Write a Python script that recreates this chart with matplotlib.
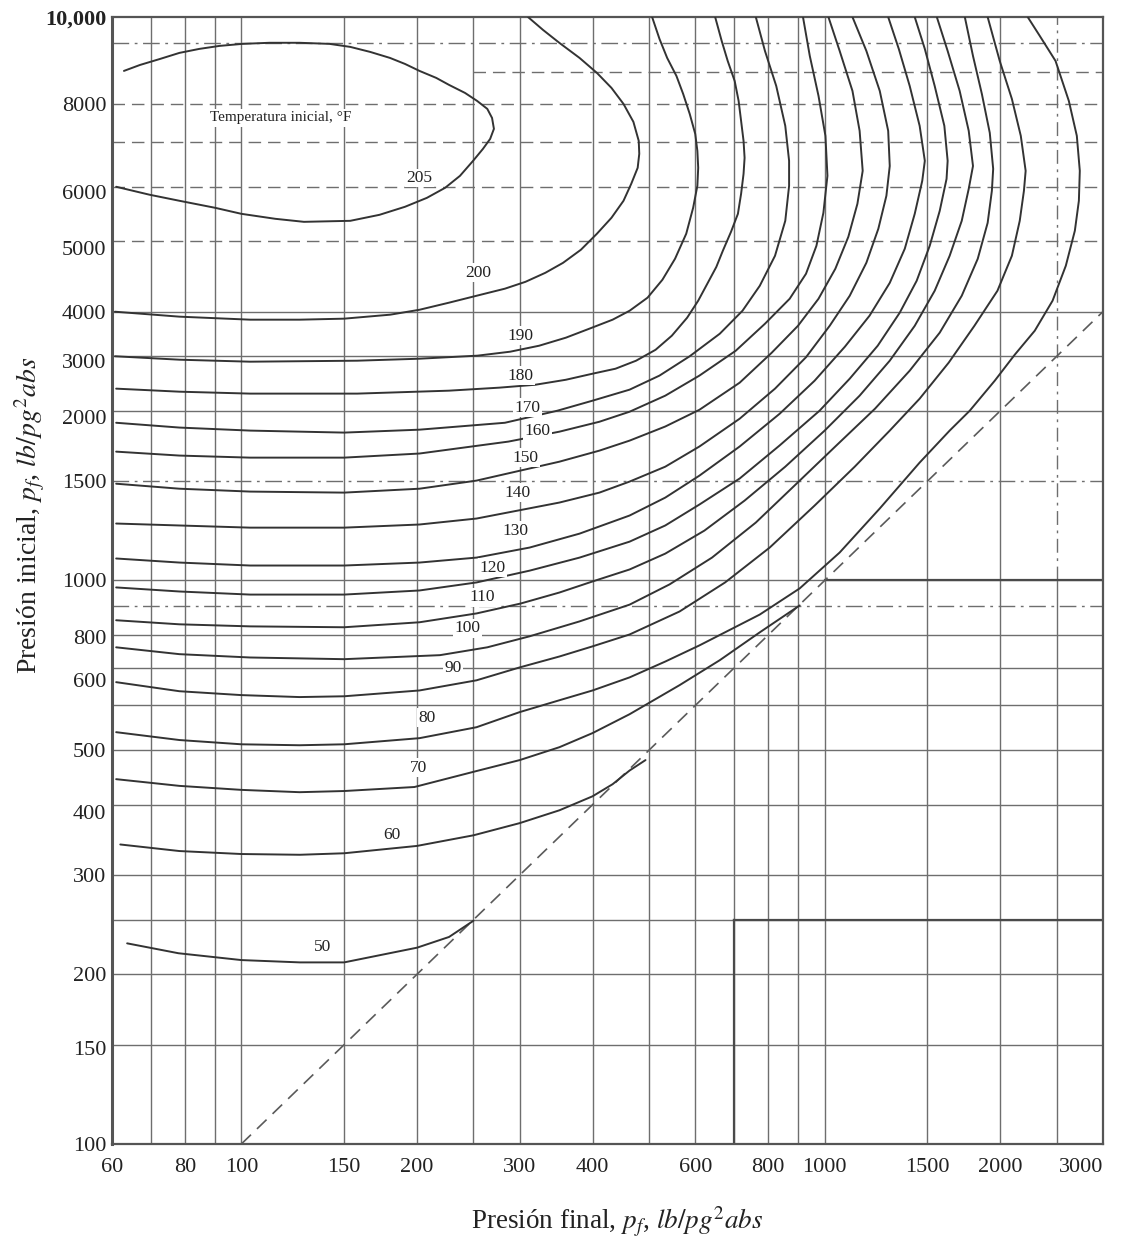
import matplotlib.pyplot as plt
from matplotlib.ticker import NullLocator

plt.rcParams['font.family'] = ['Liberation Serif', 'DejaVu Serif']
plt.rcParams['mathtext.fontset'] = 'stix'

# Initial temperature curves: final pressure pf vs initial pressure pi (lb/pg2 abs)
pf_205 = [61, 69.6, 78.3, 90.1, 100, 114.3, 128, 153.7, 172.5, 190.8, 208, 223.5, 237, 249.6, 259.5, 267, 271, 269, 264,
          253.6, 241.8, 227, 215.8, 202, 190.8, 179.8, 166.3, 153.7, 141.6, 125.8, 111.7, 100.4, 91.7, 84.7, 78.3, 72.5, 67, 62.9]
pi_205 = [4997, 4837, 4719, 4586, 4474, 4384, 4330, 4348, 4456, 4605, 4776, 4976, 5225, 5556, 5834, 6077, 6332, 6620, 6870,
          7097, 7332, 7577, 7797, 8023, 8254, 8460, 8670, 8850, 8960, 9000, 9000, 8960, 8886, 8778, 8636, 8424, 8220, 8023]

pf_200 = [60.7, 78.3, 103.5, 125.8, 150, 180, 202, 227, 257, 283, 307, 332, 356, 382, 407, 431, 452, 466, 478, 481,
          480, 470, 452, 431, 407, 380, 351, 329, 310]
pi_200 = [2999, 2939, 2903, 2903, 2915, 2963, 3023, 3112, 3214, 3295, 3389, 3516, 3662, 3863, 4125, 4402, 4719, 5058, 5400, 5718,
          6028, 6515, 7010, 7485, 7957, 8460, 8995, 9485, 10000]

pf_190 = [60.7, 78.3, 103.5, 158, 202, 254, 289, 324, 360, 395, 433, 463, 497, 527, 554, 579, 595, 605, 607, 605,
          600, 587, 572, 557, 537, 521, 506]
pi_190 = [2500, 2465, 2445, 2455, 2475, 2506, 2547, 2610, 2697, 2798, 2903, 3011, 3176, 3417, 3724, 4125, 4586, 5016, 5400, 5787,
          6200, 6731, 7303, 7860, 8460, 9142, 10000]

pf_180 = [61, 78.3, 103.5, 158, 227, 277, 319, 360, 400, 438, 475, 513, 547, 581, 607, 629, 652, 669, 691, 710,
          719, 726, 729, 726, 719, 712, 701, 682, 666, 649]
pi_180 = [2190, 2163, 2146, 2146, 2172, 2199, 2225, 2271, 2328, 2376, 2455, 2567, 2719, 2926, 3137, 3360, 3601, 3847, 4158, 4474,
          4855, 5267, 5624, 6028, 6541, 7097, 7700, 8356, 9067, 10000]

pf_170 = [61, 78.3, 103.5, 150, 202, 283, 348, 400, 463, 521, 587, 661, 723, 774, 822, 856, 869, 869, 856, 826, 790, 762]
pi_170 = [1905, 1868, 1845, 1830, 1852, 1905, 2001, 2085, 2181, 2310, 2500, 2741, 3011, 3334, 3769, 4348, 5016, 5556, 6409, 7544, 8706, 10000]

pf_160 = [61, 78.3, 103.5, 150, 202, 287, 351, 411, 463, 533, 610, 704, 790, 871, 929, 968, 995, 1011, 1003, 976, 943, 918]
pi_160 = [1693, 1666, 1652, 1652, 1680, 1764, 1837, 1913, 1993, 2128, 2310, 2557, 2855, 3162, 3502, 3926, 4492, 5226, 6153, 7244, 8529, 10000]

pf_150 = [61, 78.3, 103.5, 150, 202, 253, 301, 351, 411, 463, 533, 610, 715, 811, 900, 976, 1043, 1098, 1138, 1162, 1148, 1116, 1061, 1015]
pi_150 = [1485, 1455, 1438, 1432, 1455, 1504, 1567, 1625, 1700, 1771, 1876, 2009, 2244, 2535, 2831, 3162, 3574, 4073, 4661, 5333, 6280, 7393, 8706, 10000]

pf_140 = [61, 78.3, 103.5, 150, 202, 253, 351, 411, 463, 533, 610, 715, 822, 929, 1020, 1104, 1179, 1236, 1276, 1293, 1285, 1243, 1179, 1116]
pi_140 = [1262, 1252, 1241, 1241, 1257, 1288, 1375, 1432, 1498, 1592, 1729, 1937, 2190, 2490, 2831, 3201, 3663, 4209, 4817, 5440, 6280, 7393, 8706, 10000]

pf_130 = [61, 78.3, 103.5, 150, 202, 253, 312, 380, 463, 533, 610, 715, 837, 961, 1083, 1194, 1293, 1372, 1427, 1470, 1485, 1455, 1399, 1340, 1285]
pi_130 = [1094, 1076, 1063, 1063, 1076, 1098, 1144, 1211, 1304, 1403, 1535, 1729, 1976, 2262, 2599, 2951, 3374, 3879, 4474, 5120, 5556, 6409, 7544, 8778, 10000]

pf_120 = [61, 78.3, 103.5, 150, 202, 253, 312, 380, 463, 533, 610, 715, 837, 980, 1104, 1233, 1345, 1438, 1514, 1575, 1618, 1625, 1604, 1544, 1485, 1427]
pi_120 = [972, 956, 944, 944, 960, 992, 1041, 1098, 1172, 1252, 1364, 1517, 1736, 2001, 2281, 2610, 2987, 3403, 3926, 4529, 5161, 5556, 6409, 7544, 8778, 10000]

pf_110 = [61, 78.3, 103.5, 150, 202, 253, 301, 351, 400, 463, 533, 622, 729, 856, 1000, 1148, 1293, 1427, 1544, 1638, 1718, 1766, 1796, 1766, 1704, 1625, 1557]
pi_110 = [850, 836, 829, 826, 843, 874, 910, 952, 996, 1046, 1116, 1226, 1386, 1592, 1845, 2128, 2455, 2831, 3267, 3769, 4348, 4955, 5440, 6280, 7393, 8706, 10000]

pf_100 = [61, 78.3, 103.5, 150, 219, 264, 312, 380, 463, 542, 641, 762, 888, 1043, 1220, 1399, 1575, 1718, 1830, 1903, 1935, 1945, 1919, 1860, 1796, 1739]
pi_100 = [761, 740, 730, 725, 737, 761, 796, 846, 906, 984, 1098, 1267, 1474, 1729, 2018, 2357, 2753, 3201, 3723, 4312, 4915, 5377, 6229, 7303, 8529, 10000]

pf_90 = [61, 78.3, 100, 125.8, 150, 202, 253, 300, 351, 400, 463, 564, 675, 805, 961, 1126, 1293, 1455, 1632, 1806, 1978, 2094, 2160, 2196, 2211, 2169, 2094, 1996, 1903]
pi_90 = [660, 636, 626, 621, 623, 638, 665, 701, 733, 764, 802, 881, 992, 1144, 1358, 1592, 1845, 2102, 2436, 2831, 3267, 3769, 4348, 4915, 5333, 6153, 7156, 8356, 10000]

pf_80 = [61, 78.3, 100, 125.8, 150, 202, 253, 300, 351, 400, 463, 533, 610, 774, 906, 1061, 1243, 1455, 1638, 1773, 1957, 2118, 2292, 2459, 2591, 2685, 2728, 2738, 2706, 2622, 2488, 2338, 2229]
pi_80 = [538, 521, 512, 510, 512, 525, 549, 584, 613, 638, 673, 718, 767, 870, 968, 1121, 1342, 1619, 1845, 2001, 2262, 2516, 2775, 3137, 3619, 4175, 4719, 5333, 6153, 7097, 8356, 9255, 10000]

pf_70 = [61, 78.3, 100, 125.8, 150, 198, 253, 300, 351, 400, 463, 564, 661, 774, 906]
pi_70 = [444, 432, 425, 421, 423, 430, 459, 480, 506, 536, 579, 652, 722, 809, 903]

pf_60 = [62, 78.3, 100, 126, 150, 200, 250, 300, 351, 400, 433, 463, 493]
pi_60 = [340, 331, 327, 326, 328, 338, 353, 371, 391, 414, 435, 460, 480]

pf_50 = [63.7, 78, 100, 126, 150, 200, 227, 250]
pi_50 = [227, 218, 212, 210, 210, 223, 233, 249]

curves = [
    (pf_205, pi_205), (pf_200, pi_200), (pf_190, pi_190), (pf_180, pi_180),
    (pf_170, pi_170), (pf_160, pi_160), (pf_150, pi_150), (pf_140, pi_140),
    (pf_130, pi_130), (pf_120, pi_120), (pf_110, pi_110), (pf_100, pi_100),
    (pf_90, pi_90), (pf_80, pi_80), (pf_70, pi_70), (pf_60, pi_60), (pf_50, pi_50),
]

# curve labels
label_temps = [205, 200, 190, 180, 170, 160, 150, 140, 130, 120, 110, 100, 90, 80, 70, 60, 50]
label_pf = [202, 255, 301, 301, 309, 322, 307, 297, 295, 269, 259, 244, 231, 208, 201, 181, 138]
label_pi = [5180, 3516, 2719, 2309, 2026, 1845, 1652, 1432, 1226, 1054, 933, 822, 700, 571, 465, 354, 224]

# axis ticks (labels as printed on the chart scale)
xtick_values = [60, 80, 100, 150, 200, 300, 400, 600, 800, 1000, 1500, 2000, 3000]
ytick_pos = [100, 148, 200, 300, 389, 500, 665, 795, 1000, 1500, 1950, 2455, 3000, 3894, 4886, 7000, 10000]
ytick_text = ['100', '150', '200', '300', '400', '500', '600', '800', '1000', '1500', '2000',
              '3000', '4000', '5000', '6000', '8000', '10,000']

# grid lines
grid_x = [70, 80, 90, 100, 150, 200, 250, 300, 400, 500, 600, 700, 800, 900, 1000, 1500, 2000]
grid_y_solid = [150, 200, 250, 300, 400, 500, 600, 700, 800, 1000, 2000, 2500, 3000]
grid_y_dashed = [4000, 5000, 6000, 7000]
grid_y_dashdot = [900, 1500, 9000]

fig = plt.figure(figsize=(11.21, 12.41), dpi=100)
ax = fig.add_axes([0.0999, 0.0782, 0.8840, 0.9081])
ax.set_xscale('log')
ax.set_yscale('log')
ax.set_xlim(60, 3000)
ax.set_ylim(100, 10000)

gc = '#6e6e6e'
for v in grid_x:
    ax.axvline(v, color=gc, lw=1.0, zorder=1)
ax.plot([2500, 2500], [100, 1000], color=gc, lw=1.0, zorder=1)
ax.plot([2500, 2500], [1000, 10000], color=gc, lw=1.0, ls=(0, (10, 4, 2, 4)), zorder=1)
for v in grid_y_solid:
    ax.axhline(v, color=gc, lw=1.0, zorder=1)
for v in grid_y_dashed:
    ax.axhline(v, color=gc, lw=1.0, ls=(0, (9, 5)), zorder=1)
for v in grid_y_dashdot:
    ax.axhline(v, color=gc, lw=1.0, ls=(0, (12, 4, 2, 4)), zorder=1)
ax.plot([250, 3000], [8000, 8000], color=gc, lw=1.0, ls=(0, (9, 5)), zorder=1)

# heavier rulings
ax.plot([1000, 3000], [1000, 1000], color='#4a4a4a', lw=1.6, zorder=1.5)
ax.plot([700, 3000], [250, 250], color='#4a4a4a', lw=1.6, zorder=1.5)
ax.plot([700, 700], [100, 250], color='#4a4a4a', lw=1.6, zorder=1.5)

# pf = pi line
ax.plot([100, 3000], [100, 3000], color='#5a5a5a', lw=1.2, ls=(0, (8, 5)), zorder=2)

for pf, pi in curves:
    ax.plot(pf, pi, color='#333333', lw=1.4, solid_joinstyle='round', solid_capstyle='round', zorder=3)

for t, x, y in zip(label_temps, label_pf, label_pi):
    ax.text(x, y, str(t), fontsize=12.5, ha='center', va='center', color='#222222', zorder=4,
            bbox=dict(facecolor='white', edgecolor='none', pad=1.0))

ax.text(117, 6620, 'Temperatura inicial, °F', fontsize=11, ha='center', va='center',
        color='#222222', zorder=4, bbox=dict(facecolor='white', edgecolor='none', pad=1.5))

ax.xaxis.set_minor_locator(NullLocator())
ax.yaxis.set_minor_locator(NullLocator())
ax.set_xticks(xtick_values)
ax.set_xticklabels([str(v) for v in xtick_values], fontsize=16)
ax.xaxis.get_ticklabels()[-1].set_horizontalalignment('right')
ax.set_yticks(ytick_pos)
ax.set_yticklabels(ytick_text, fontsize=16)
ax.yaxis.get_ticklabels()[-1].set_fontweight('bold')
ax.tick_params(length=0, colors='#222222')
ax.tick_params(axis='x', pad=10)
ax.tick_params(axis='y', pad=4)

for side in ['left', 'right', 'top', 'bottom']:
    ax.spines[side].set_color('#555555')
    ax.spines[side].set_linewidth(1.6)
ax.spines['left'].set_linewidth(2.2)

fig.text(617 / 1121, 1 - 1222 / 1241, 'Presión final, $p_f$, $lb/pg^2abs$', fontsize=19.5,
         ha='center', va='center', color='#222222')
fig.text(30 / 1121, 1 - 515 / 1241, 'Presión inicial, $p_f$, $lb/pg^2abs$', fontsize=20,
         ha='center', va='center', rotation=90, color='#222222')

fig.savefig('out.png', dpi=100)
